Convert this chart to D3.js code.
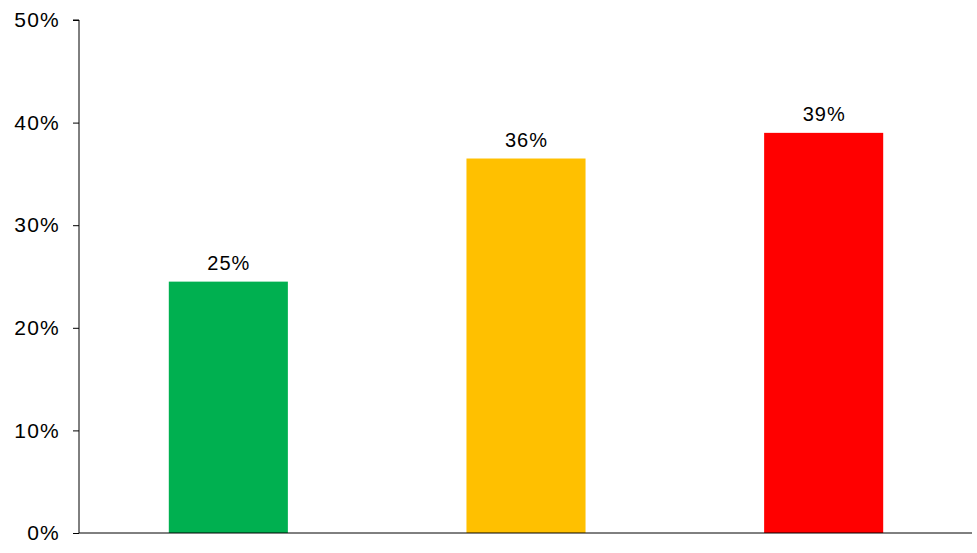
<!DOCTYPE html>
<html><head><meta charset="utf-8">
<script src="https://d3js.org/d3.v7.min.js"></script>
<style>body{margin:0;background:#fff}svg{display:block}text{font-family:"Liberation Sans",Arial,sans-serif}</style>
</head><body><svg id="c" width="977" height="553"></svg>
<script>
const categories = ["A", "B", "C"];
const values = [0.245, 0.365, 0.39];
const valueLabels = ["25%", "36%", "39%"];
const colors = ["#00B050", "#FFC000", "#FF0000"];
const yTicks = [0, 0.1, 0.2, 0.3, 0.4, 0.5];

const svg = d3.select("#c");
const m = {l: 79, r: 5, t: 20, b: 20};
const W = 977, H = 553;
const x = d3.scaleBand().domain(categories).range([m.l, W - m.r]).paddingInner(0.6).paddingOuter(0.3);
const y = d3.scaleLinear().domain([0, 0.5]).range([H - m.b, m.t]);

const yAxis = svg.append("g").attr("transform", `translate(${m.l},0)`)
  .call(d3.axisLeft(y).tickValues(yTicks).tickFormat(d3.format(".0%")).tickSize(6).tickPadding(13));
yAxis.select(".domain").attr("stroke", "#000").attr("d", `M-6,${y(0.5)}H0V${y(0)}`);
yAxis.selectAll(".tick line").attr("stroke", "#000");
yAxis.selectAll(".tick text").attr("font-size", 21).attr("fill", "#000").attr("font-family", "Liberation Sans, Arial, sans-serif").style("letter-spacing", "1.2px");

svg.selectAll("rect.bar").data(values).enter().append("rect")
  .attr("x", (d, i) => x(categories[i]) + 0.5)
  .attr("width", x.bandwidth())
  .attr("y", d => y(d))
  .attr("height", d => y(0) - y(d))
  .attr("fill", (d, i) => colors[i]);

svg.append("line").attr("x1", m.l).attr("x2", W - m.r).attr("y1", y(0)).attr("y2", y(0)).attr("stroke", "#000");

svg.selectAll("text.lbl").data(values).enter().append("text")
  .attr("x", (d, i) => x(categories[i]) + x.bandwidth() / 2 + 1)
  .attr("y", d => y(d) - 12)
  .attr("text-anchor", "middle").attr("font-size", 20).style("letter-spacing", "1px")
  .text((d, i) => valueLabels[i]);
</script></body></html>
